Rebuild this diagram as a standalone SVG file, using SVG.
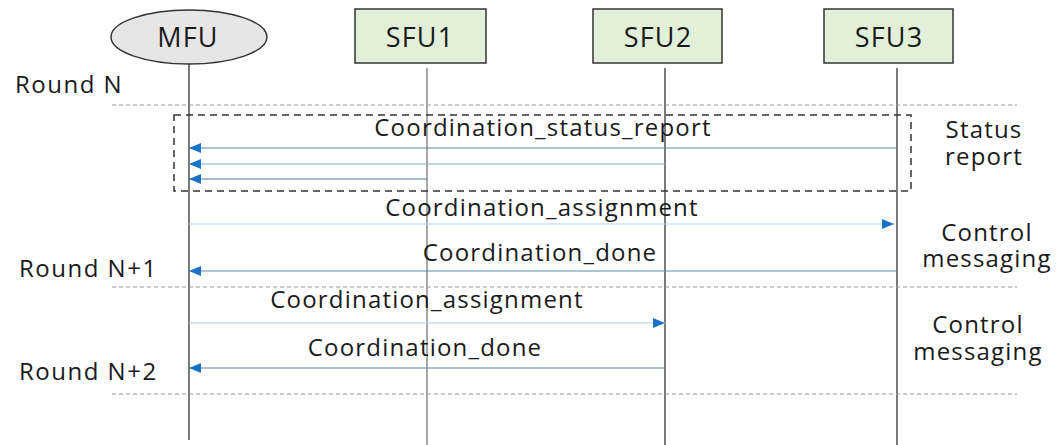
<svg xmlns="http://www.w3.org/2000/svg" width="1056" height="445" viewBox="0 0 1056 445">
  <style>
    text { font-family: "Open Sans", "Noto Sans", "DejaVu Sans", sans-serif; fill: #1a1a1a; }
    .node-label { font-size: 27px; text-anchor: middle; letter-spacing: 1.2px; }
    .msg { font-size: 24px; text-anchor: middle; letter-spacing: 1.2px; }
    .side { font-size: 24px; text-anchor: middle; letter-spacing: 1.2px; }
    .round { font-size: 24px; letter-spacing: 1.5px; }
    .sfu { fill: #e2efd9; stroke: #333; stroke-width: 1.5; }
    .lifeline { stroke: #333; stroke-width: 1.3; fill: none; }
    .lifeline-light { stroke: #a8a8a8; stroke-width: 2; fill: none; }
    .round-sep { stroke: #9a9a9a; stroke-width: 1; stroke-dasharray: 4 3; fill: none; }
    .group-box { stroke: #333; stroke-width: 1.5; stroke-dasharray: 7 5; fill: none; }
    .msg-line { stroke-width: 1.2; fill: none; }
  </style>
  <defs>
    <marker id="head" markerUnits="userSpaceOnUse" markerWidth="13" markerHeight="11" refX="12" refY="5" orient="auto">
      <path d="M0,0 L12,5 L0,10 z" fill="#1a73c6"/>
    </marker>
  </defs>

  <!-- participants -->
  <g id="mfu">
    <ellipse cx="189" cy="37" rx="78" ry="27" fill="#e6e6e6" stroke="#333" stroke-width="1.5"/>
    <text class="node-label" x="188" y="47">MFU</text>
  </g>
  <g id="sfu1">
    <rect class="sfu" x="355" y="9" width="131" height="54"/>
    <text class="node-label" x="420" y="47">SFU1</text>
  </g>
  <g id="sfu2">
    <rect class="sfu" x="593" y="9" width="129" height="54"/>
    <text class="node-label" x="658" y="47">SFU2</text>
  </g>
  <g id="sfu3">
    <rect class="sfu" x="824" y="9" width="129" height="54"/>
    <text class="node-label" x="889" y="47">SFU3</text>
  </g>

  <!-- lifelines -->
  <g id="lifelines">
    <line class="lifeline" x1="189" y1="64" x2="189" y2="440"/>
    <line class="lifeline-light" x1="427" y1="68" x2="427" y2="445"/>
    <line class="lifeline" x1="665" y1="68" x2="665" y2="445"/>
    <line class="lifeline" x1="897" y1="68" x2="897" y2="445"/>
  </g>

  <!-- round separators -->
  <g id="rounds">
    <line class="round-sep" x1="112" y1="105" x2="1017" y2="105"/>
    <line class="round-sep" x1="112" y1="287" x2="1017" y2="287"/>
    <line class="round-sep" x1="112" y1="394" x2="1017" y2="394"/>
    <text class="round" x="15" y="93">Round N</text>
    <text class="round" x="19" y="277">Round N+1</text>
    <text class="round" x="19" y="380">Round N+2</text>
  </g>

  <!-- status report group -->
  <g id="status-group">
    <rect class="group-box" x="174" y="115" width="737" height="76"/>
    <text class="side" x="984" y="138">Status<tspan x="984" dy="27">report</tspan></text>
  </g>

  <!-- control messaging notes -->
  <g id="control-1">
    <text class="side" x="987" y="241">Control<tspan x="987" dy="26">messaging</tspan></text>
  </g>
  <g id="control-2">
    <text class="side" x="978" y="333">Control<tspan x="978" dy="27">messaging</tspan></text>
  </g>

  <!-- messages -->
  <g id="connectors">
    <text class="msg" x="543" y="136">Coordination_status_report</text>
    <line class="msg-line" x1="897" y1="148" x2="189" y2="148" stroke="#5b87ad" marker-end="url(#head)"/>
    <line class="msg-line" x1="665" y1="164" x2="189" y2="164" stroke="#7fb0de" marker-end="url(#head)"/>
    <line class="msg-line" x1="427" y1="179" x2="189" y2="179" stroke="#4f7699" marker-end="url(#head)"/>

    <text class="msg" x="542" y="216">Coordination_assignment</text>
    <line class="msg-line" x1="189" y1="224" x2="894" y2="224" stroke="#b8d3e6" marker-end="url(#head)"/>

    <text class="msg" x="540" y="261">Coordination_done</text>
    <line class="msg-line" x1="897" y1="271" x2="189" y2="271" stroke="#5b89b0" marker-end="url(#head)"/>

    <text class="msg" x="427" y="308">Coordination_assignment</text>
    <line class="msg-line" x1="189" y1="323" x2="665" y2="323" stroke="#b0cde0" stroke-width="2" marker-end="url(#head)"/>

    <text class="msg" x="425" y="356">Coordination_done</text>
    <line class="msg-line" x1="665" y1="368" x2="189" y2="368" stroke="#5b89b0" marker-end="url(#head)"/>
  </g>
</svg>
